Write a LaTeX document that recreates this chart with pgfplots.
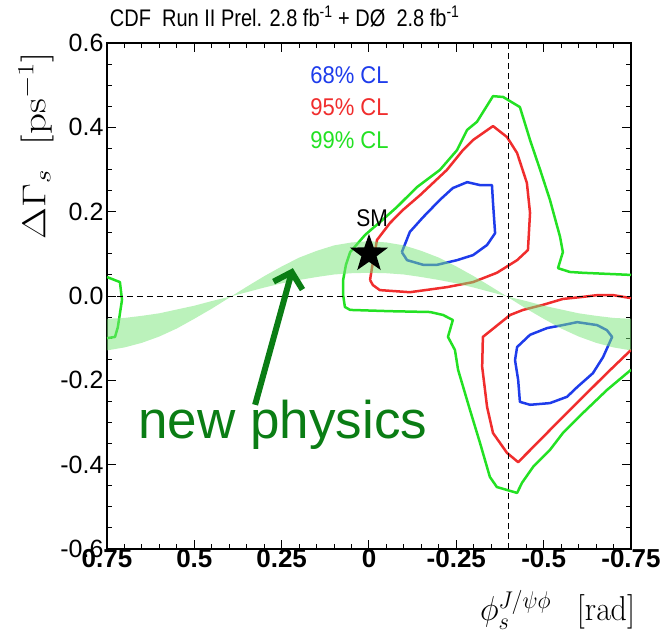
\RequirePackage{fix-cm}
\documentclass[border=0pt]{standalone}
\usepackage{pgfplots}
\pgfplotsset{compat=1.18}
\usepackage[no-math]{fontspec}
\setmainfont{Liberation Sans}
\usepackage{graphicx}
\usetikzlibrary{arrows.meta}
\definecolor{cblue}{RGB}{30,60,235}
\definecolor{cred}{RGB}{240,45,45}
\definecolor{cgreen}{RGB}{35,225,35}
\definecolor{bandgreen}{RGB}{120,230,120}
\definecolor{npgreen}{RGB}{10,125,20}
\newdimen\starin
\pgfdeclareplotmark{fstar}{%
  \starin=0.4\pgfplotmarksize
  \pgfpathmoveto{\pgfqpointpolar{90}{\pgfplotmarksize}}%
  \pgfpathlineto{\pgfqpointpolar{126}{\starin}}%
  \pgfpathlineto{\pgfqpointpolar{162}{\pgfplotmarksize}}%
  \pgfpathlineto{\pgfqpointpolar{198}{\starin}}%
  \pgfpathlineto{\pgfqpointpolar{234}{\pgfplotmarksize}}%
  \pgfpathlineto{\pgfqpointpolar{270}{\starin}}%
  \pgfpathlineto{\pgfqpointpolar{306}{\pgfplotmarksize}}%
  \pgfpathlineto{\pgfqpointpolar{342}{\starin}}%
  \pgfpathlineto{\pgfqpointpolar{18}{\pgfplotmarksize}}%
  \pgfpathlineto{\pgfqpointpolar{54}{\starin}}%
  \pgfpathclose\pgfusepathqfill}
\begin{document}
\begin{tikzpicture}
\path[use as bounding box] (-107pt,-86pt) rectangle (565pt,549pt);
\begin{axis}[
  at={(0pt,0pt)}, anchor=south west,
  width=524pt, height=506pt, scale only axis,
  xmin=-0.75, xmax=0.75, ymin=-0.6, ymax=0.6,
  x dir=reverse,
  clip mode=individual,
  axis line style={line width=1.4pt},
  tick style={black, line width=1pt},
  major tick length=9pt, minor tick length=5pt,
  tick align=inside,
  xtick={0.75,0.5,0.25,0,-0.25,-0.5,-0.75},
  xticklabels={0.75,0.5,0.25,0,-0.25,-0.5,-0.75},
  minor x tick num=4,
  ytick={-0.6,-0.4,-0.2,0,0.2,0.4,0.6},
  yticklabels={-0.6,-0.4,-0.2,0.0,0.2,0.4,0.6},
  minor y tick num=3,
  yticklabel style={font=\fontsize{25}{25}\selectfont},
  xticklabel style={font=\fontsize{26}{26}\selectfont\bfseries, yshift=3pt},
]
% 99% CL
\addplot[cgreen, mark=none, line width=2.5pt, line join=round] coordinates {
(-0.750,0.050) (-0.613,0.055) (-0.575,0.057) (-0.541,0.066) (-0.555,0.104) (-0.547,0.140)
(-0.518,0.228) (-0.490,0.299) (-0.461,0.370) (-0.432,0.448) (-0.384,0.472) (-0.355,0.474)
(-0.309,0.413) (-0.281,0.394) (-0.252,0.346) (-0.203,0.299) (-0.137,0.258) (-0.080,0.211)
(-0.031,0.175) (0.011,0.145) (0.054,0.104) (0.066,0.074) (0.074,0.038) (0.074,0.002)
(0.069,-0.026) (0.054,-0.033) (-0.060,-0.036) (-0.175,-0.038) (-0.212,-0.045) (-0.240,-0.057)
(-0.226,-0.097) (-0.246,-0.128) (-0.255,-0.175) (-0.289,-0.270) (-0.318,-0.349) (-0.346,-0.429)
(-0.366,-0.453) (-0.424,-0.467) (-0.438,-0.443) (-0.470,-0.405) (-0.518,-0.365) (-0.555,-0.325)
(-0.613,-0.277) (-0.681,-0.223) (-0.750,-0.175)};
\addplot[cgreen, mark=none, line width=2.5pt, line join=round] coordinates {
(0.750,0.045) (0.713,0.033) (0.707,-0.009) (0.719,-0.074) (0.727,-0.097) (0.750,-0.100)};
% 95% CL
\addplot[cred, mark=none, line width=2.5pt, line join=round] coordinates {
(-0.003,0.038) (-0.009,0.069) (-0.023,0.133) (-0.060,0.173) (-0.097,0.204) (-0.146,0.239)
(-0.223,0.299) (-0.269,0.346) (-0.298,0.370) (-0.355,0.403) (-0.395,0.377) (-0.424,0.339)
(-0.452,0.268) (-0.461,0.197) (-0.455,0.109) (-0.424,0.085) (-0.366,0.055) (-0.298,0.033)
(-0.223,0.021) (-0.117,0.009) (-0.031,0.014) (-0.011,0.026) (-0.003,0.038)};
\addplot[cred, mark=none, line width=2.5pt, line join=round] coordinates {
(-0.750,-0.005) (-0.699,0.002) (-0.653,0.002) (-0.613,-0.002) (-0.555,-0.007) (-0.498,-0.021)
(-0.441,-0.033) (-0.404,-0.045) (-0.326,-0.097) (-0.324,-0.168) (-0.338,-0.263) (-0.355,-0.325)
(-0.395,-0.372) (-0.427,-0.394) (-0.481,-0.349) (-0.538,-0.301) (-0.613,-0.239) (-0.681,-0.183)
(-0.750,-0.128)};
% 68% CL
\addplot[cblue, mark=none, line width=2.5pt, line join=round] coordinates {
(-0.094,0.104) (-0.117,0.152) (-0.155,0.187) (-0.203,0.228) (-0.240,0.256) (-0.281,0.270)
(-0.318,0.263) (-0.352,0.263) (-0.355,0.221) (-0.361,0.149) (-0.338,0.121) (-0.298,0.097)
(-0.252,0.085) (-0.195,0.074) (-0.155,0.074) (-0.109,0.085) (-0.094,0.104)};
\addplot[cblue, mark=none, line width=2.5pt, line join=round] coordinates {
(-0.461,-0.092) (-0.510,-0.076) (-0.555,-0.069) (-0.596,-0.062) (-0.653,-0.069) (-0.681,-0.081)
(-0.696,-0.097) (-0.670,-0.145) (-0.641,-0.183) (-0.596,-0.216) (-0.567,-0.239) (-0.518,-0.254)
(-0.461,-0.258) (-0.432,-0.251) (-0.427,-0.199) (-0.418,-0.152) (-0.424,-0.121) (-0.461,-0.092)};
% new physics band
\addplot[mark=none, draw=none, fill=bandgreen, fill opacity=0.5] coordinates {
(0.75,-0.129) (0.70,-0.122) (0.65,-0.111) (0.60,-0.096) (0.55,-0.077) (0.50,-0.054) (0.45,-0.030)
(0.40,-0.004) (0.35,0.022) (0.30,0.047) (0.25,0.070) (0.20,0.091) (0.15,0.107) (0.10,0.120)
(0.05,0.127) (0,0.130) (-0.05,0.127) (-0.10,0.120) (-0.15,0.107) (-0.20,0.091) (-0.25,0.070)
(-0.30,0.047) (-0.35,0.022) (-0.40,-0.004) (-0.45,-0.030) (-0.50,-0.054) (-0.55,-0.077)
(-0.60,-0.096) (-0.65,-0.111) (-0.70,-0.122) (-0.75,-0.129)
(-0.75,-0.054) (-0.70,-0.052) (-0.65,-0.047) (-0.60,-0.041) (-0.55,-0.032) (-0.50,-0.023)
(-0.45,-0.012) (-0.40,-0.002) (-0.35,0.009) (-0.30,0.020) (-0.25,0.030) (-0.20,0.038)
(-0.15,0.045) (-0.10,0.051) (-0.05,0.054) (0,0.055) (0.05,0.054) (0.10,0.051) (0.15,0.045)
(0.20,0.038) (0.25,0.030) (0.30,0.020) (0.35,0.009) (0.40,-0.002) (0.45,-0.012) (0.50,-0.023)
(0.55,-0.032) (0.60,-0.041) (0.65,-0.047) (0.70,-0.052) (0.75,-0.054)} -- cycle;
% dashed reference lines
\addplot[black, mark=none, line width=0.9pt, dash pattern=on 6pt off 4pt] coordinates {(0.75,0) (-0.75,0)};
\addplot[black, mark=none, line width=0.9pt, dash pattern=on 6pt off 4pt] coordinates {(-0.4,-0.6) (-0.4,0.6)};
% SM point
\addplot[only marks, mark=fstar, mark size=20pt, black] coordinates {(0,0.1)};
% annotations
\node[font=\fontsize{21}{21}\selectfont] at (axis cs:-0.009,0.185) {\scalebox{1}[1.15]{SM}};
\node[anchor=west, text=cblue, font=\fontsize{22}{22}\selectfont] at (axis cs:0.178,0.524) {\scalebox{1}[1.1]{68\% CL}};
\node[anchor=west, text=cred, font=\fontsize{22}{22}\selectfont] at (axis cs:0.178,0.448) {\scalebox{1}[1.1]{95\% CL}};
\node[anchor=west, text=cgreen, font=\fontsize{22}{22}\selectfont] at (axis cs:0.178,0.370) {\scalebox{1}[1.1]{99\% CL}};
\node[anchor=base west, text=npgreen, font=\fontsize{53}{53}\selectfont] at (axis cs:0.670,-0.337) {new physics};
\draw[npgreen, line width=6pt, -{Straight Barb[length=14pt, width=30pt]}] (axis cs:0.326,-0.258) -- (axis cs:0.218,0.066);
\node[anchor=base west, font=\fontsize{20}{20}\selectfont, inner sep=0pt] at (axis cs:0.742,0.640) {\scalebox{1}[1.2]{CDF\ \ Run II Prel. 2.8 fb\textsuperscript{-1} + DØ\ \ 2.8 fb\textsuperscript{-1}}};
\node[rotate=90, font=\fontsize{33}{33}\selectfont] at (axis cs:0.953,0.356) {\scalebox{1.25}[1]{$\Delta\Gamma_s\hspace{0.6em}[\mathrm{ps}^{-1}]$}};
\node[anchor=base, font=\fontsize{32}{32}\selectfont] at (axis cs:-0.540,-0.770) {\scalebox{1}[1.08]{$\phi_s^{J/\psi\phi}\hspace{0.8em}[\mathrm{rad}]$}};
\end{axis}
\end{tikzpicture}
\end{document}
